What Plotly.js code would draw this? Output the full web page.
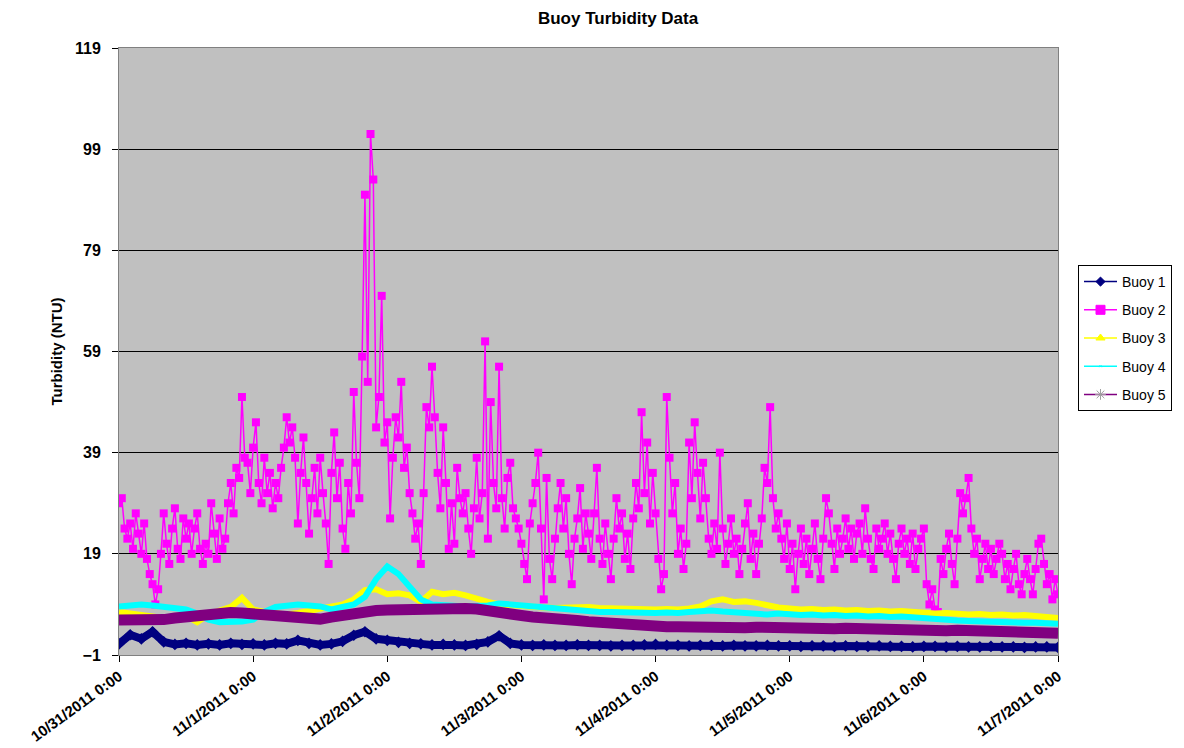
<!DOCTYPE html>
<html>
<head>
<meta charset="utf-8">
<script src="https://cdn.plot.ly/plotly-3.0.1.min.js"></script>
<style>html,body{margin:0;padding:0;background:#fff;}#chart{width:1184px;height:748px;}</style>
</head>
<body>
<div id="chart"></div>
<script>
// ---- DATA ----
const seriesNames = ["Buoy 1", "Buoy 2", "Buoy 3", "Buoy 4", "Buoy 5"];
const dayTickHours = [0, 24, 48, 72, 96, 120, 144, 168];
const dayTickLabels = ["10/31/2011 0:00", "11/1/2011 0:00", "11/2/2011 0:00", "11/3/2011 0:00",
  "11/4/2011 0:00", "11/5/2011 0:00", "11/6/2011 0:00", "11/7/2011 0:00"];

// Buoy 2: half-hourly readings (NTU)
const buoy2 = [
  29,30,24,22,25,20,27,23,19,25,18,15,13,9,12,19,27,21,17,24,28,20,18,26,22,25,19,24,27,20,17,21,19,29,23,18,26,20,22,29,33,27,36,34,50,38,37,31,
  40,45,33,29,38,31,35,28,33,30,36,40,46,41,44,38,25,35,42,33,23,30,36,27,38,31,25,17,35,43,30,37,24,20,33,27,51,37,30,58,90,53,102,93,44,50,70,41,
  45,26,38,46,42,53,36,40,31,27,22,25,17,31,48,44,56,46,35,28,44,33,20,29,21,36,30,27,31,24,19,28,38,26,31,61,22,49,33,28,56,30,24,34,37,28,26,24,
  21,17,14,25,29,33,39,24,10,34,18,14,22,28,33,24,30,19,13,22,26,32,20,27,23,18,27,36,22,17,25,19,14,22,30,24,27,18,23,16,26,33,28,47,31,41,25,35,
  27,18,12,15,50,38,27,33,19,24,16,21,41,30,45,35,26,37,30,22,19,25,20,39,24,17,21,26,19,22,15,20,25,29,18,23,15,21,26,36,33,48,30,24,27,22,18,25,
  16,21,12,19,24,17,22,15,20,25,18,14,22,30,27,21,16,24,19,22,26,20,24,18,23,25,19,28,22,18,16,24,20,22,25,19,23,18,14,21,24,19,22,17,23,16,20,22,
  24,13,9,12,8,7.5,18,15,20,23,17,13,22,31,27,30,34,24,19,22,14,18,21,16,20,15,18,21,19,14,17,12,16,19,13,11,15,18,14,11,16,21,22,17,13,15,10,14,11
];
const buoy2StepHours = 0.5;

// Buoys 1,3,4,5: two-hourly readings (NTU)
const buoy1 = [1.2,3.0,2.2,3.6,1.6,1.1,1.3,1.0,1.2,1.0,1.3,1.1,1.2,1.0,1.3,1.2,1.9,1.3,1.0,1.2,1.7,2.9,3.6,2.2,1.9,1.5,1.3,1.2,1.0,1.1,1.0,0.9,1.1,1.6,2.8,1.3,1.0,0.9,1.0,0.9,0.9,1.0,0.9,0.9,0.8,0.9,0.9,1.0,1.1,0.9,0.9,0.8,0.9,0.9,0.8,0.9,0.8,0.8,0.9,0.8,0.8,0.7,0.8,0.8,0.7,0.8,0.7,0.7,0.8,0.7,0.7,0.6,0.7,0.7,0.6,0.7,0.6,0.6,0.7,0.6,0.6,0.5,0.6,0.6,0.5];
const buoy3 = [7.5,7.2,6.8,6.5,6.3,6.5,6.8,5.5,7.0,7.8,8.5,10.3,8.0,7.5,7.2,7.0,7.3,7.8,8.2,8.5,9.0,10.0,11.8,12.0,11.0,11.2,10.8,9.5,11.5,11.0,11.3,10.8,10.0,9.5,9.0,8.8,8.6,8.5,8.4,8.3,8.4,8.6,8.5,8.3,8.2,8.2,8.1,8.2,8.0,8.1,8.0,8.2,8.6,9.6,10.0,9.5,9.6,9.3,8.8,8.4,8.2,8.0,8.1,7.9,8.0,7.8,7.9,7.7,7.8,7.6,7.7,7.5,7.4,7.2,7.3,7.1,7.0,7.1,6.9,7.0,6.8,6.9,6.7,6.5,6.3];
const buoy4 = [8.6,8.8,9.0,8.8,8.5,8.3,8.0,7.2,6.0,5.5,5.5,5.6,6.0,7.5,8.5,8.8,9.0,8.8,8.6,8.0,8.5,9.0,10.5,14.0,16.5,15.0,12.5,10.0,9.0,8.8,8.7,8.6,8.7,8.8,9.2,9.0,8.8,8.7,8.5,8.3,8.0,7.8,7.6,7.5,7.5,7.4,7.4,7.3,7.3,7.4,7.3,7.5,7.6,7.8,7.6,7.5,7.3,7.2,7.0,7.2,7.0,6.9,7.0,6.8,6.9,6.7,6.8,6.6,6.7,6.5,6.6,6.4,6.2,6.0,5.9,5.8,5.7,5.6,5.6,5.5,5.5,5.4,5.4,5.3,5.2];
const buoy5 = [5.9,5.8,5.7,5.8,6.0,6.3,6.6,6.8,7.1,7.3,7.4,7.3,7.1,6.9,6.6,6.3,6.0,5.9,6.1,6.5,6.9,7.2,7.5,7.8,7.9,8.0,8.1,8.1,8.2,8.3,8.3,8.2,8.1,7.9,7.2,7.0,6.8,6.5,6.2,6.1,5.9,5.8,5.6,5.4,5.3,5.1,5.0,4.8,4.7,4.6,4.6,4.5,4.5,4.6,4.5,4.5,4.4,4.5,4.4,4.4,4.3,4.4,4.3,4.3,4.2,4.3,4.2,4.1,4.1,4.0,4.1,4.0,3.9,3.9,3.8,3.9,3.8,3.7,3.7,3.6,3.6,3.5,3.5,3.4,3.3];
const denseStepHours = 2;

// ---- BUILD ----
function hoursFor(n, step) { const out = []; for (let i = 0; i < n; i++) out.push(i * step); return out; }
const hB2 = hoursFor(buoy2.length, buoy2StepHours);
const hDense = hoursFor(buoy1.length, denseStepHours);

const colors = ["#000080", "#ff00ff", "#ffff00", "#00ffff", "#800080"];
const FONT = "Liberation Sans, Arial, sans-serif";

const traces = [
  {x: hDense, y: buoy1, mode: "lines+markers", line: {color: colors[0], width: 8},
   marker: {symbol: "diamond", size: 9, color: colors[0]}, showlegend: false, hoverinfo: "skip"},
  {x: hB2, y: buoy2, mode: "lines+markers", line: {color: colors[1], width: 1.5},
   marker: {symbol: "square", size: 8, color: colors[1]}, showlegend: false, hoverinfo: "skip"},
  {x: hDense, y: buoy3, mode: "lines", line: {color: colors[2], width: 6}, showlegend: false, hoverinfo: "skip"},
  {x: hDense, y: buoy4, mode: "lines", line: {color: colors[3], width: 6}, showlegend: false, hoverinfo: "skip"},
  {x: hDense, y: buoy5, mode: "lines", line: {color: colors[4], width: 11}, showlegend: false, hoverinfo: "skip"}
];
// legend entries
const legSymbols = ["diamond", "square", "triangle-up", "x-thin-open", "asterisk-open"];
const legSizes = [7, 9, 8, 1, 9];
const legMarkerColor = [colors[0], colors[1], colors[2], colors[3], "#a0a0a0"];
seriesNames.forEach((name, i) => {
  traces.push({x: [null], y: [null], name: name, mode: "lines+markers", legendgroup: "g" + i,
    line: {color: colors[i], width: 1.5},
    marker: {symbol: legSymbols[i], size: legSizes[i], color: legMarkerColor[i], line: {color: legMarkerColor[i], width: 1}}});
});

const layout = {
  width: 1184, height: 748,
  margin: {l: 119, r: 126, t: 48, b: 93},
  paper_bgcolor: "#ffffff", plot_bgcolor: "#c0c0c0",
  font: {family: FONT, color: "#000"},
  title: {text: "Buoy Turbidity Data", font: {family: FONT, size: 17, weight: "bold"},
    xref: "container", x: 0.522, xanchor: "center", yref: "container", y: 0.976, yanchor: "middle"},
  xaxis: {range: [0, 168], tickmode: "array", tickvals: dayTickHours, ticktext: dayTickLabels,
    tickangle: -36, ticks: "outside", ticklen: 6, tickcolor: "#000", showgrid: false, zeroline: false,
    showline: true, linecolor: "#808080", linewidth: 1, mirror: true,
    tickfont: {family: FONT, size: 15, weight: "bold"}},
  yaxis: {range: [-1, 119], tick0: -1, dtick: 20, ticks: "outside", ticklen: 6, tickcolor: "#000",
    ticklabelstandoff: 8,
    showgrid: true, gridcolor: "#000", gridwidth: 1, zeroline: false,
    showline: true, linecolor: "#808080", linewidth: 1, mirror: true,
    tickfont: {family: FONT, size: 16, weight: "bold"},
    title: {text: "Turbidity (NTU)", standoff: 8, font: {family: FONT, size: 15, weight: "bold"}}},
  legend: {x: 1.0213, xanchor: "left", y: 0.6425, yanchor: "top", bgcolor: "#ffffff",
    bordercolor: "#000", borderwidth: 1, traceorder: "grouped", tracegroupgap: 7, itemwidth: 33,
    font: {family: FONT, size: 14}}
};

Plotly.newPlot("chart", traces, layout, {staticPlot: true, displayModeBar: false});
</script>
</body>
</html>
